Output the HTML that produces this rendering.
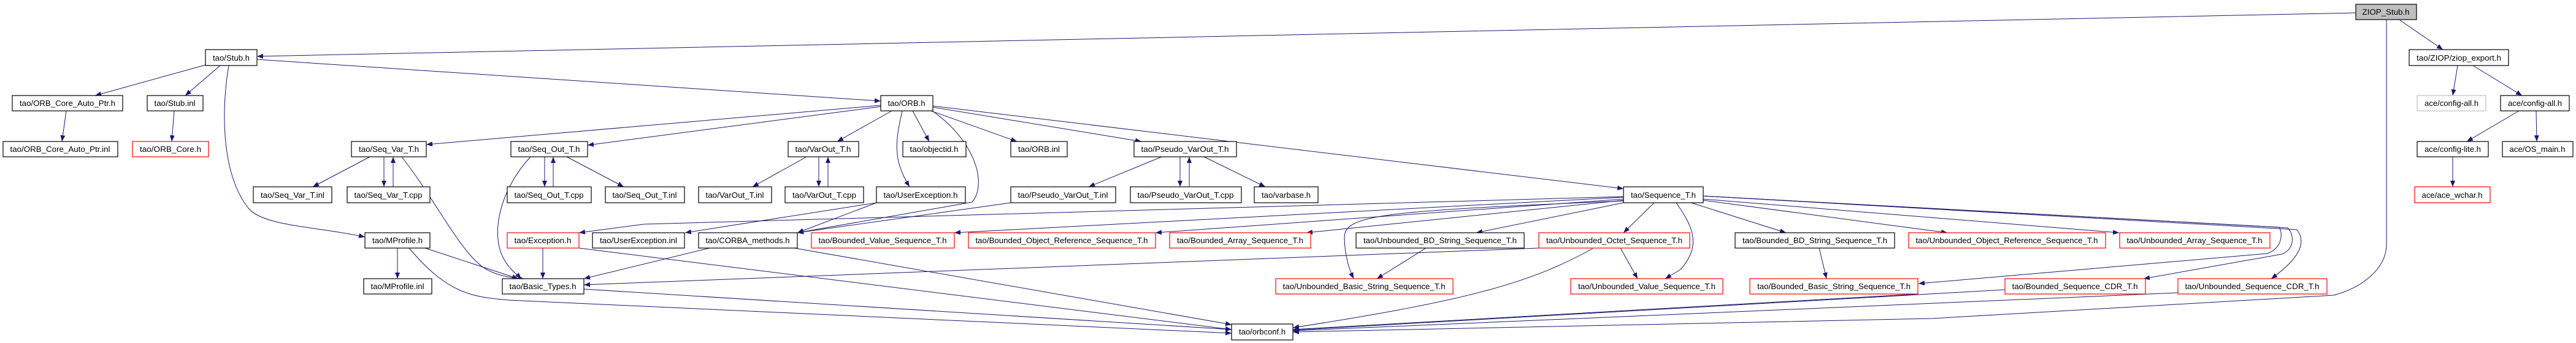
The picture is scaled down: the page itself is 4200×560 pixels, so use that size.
<!DOCTYPE html>
<html><head><meta charset="utf-8"><style>
html,body{margin:0;padding:0;background:#fff}
svg{display:block}
text{font-family:"Liberation Sans",sans-serif;font-size:13px;fill:#000;text-anchor:middle}
.e{fill:none;stroke:#191970;stroke-width:1}
</style></head><body>
<svg width="4200" height="560" viewBox="0 0 4200 560" xmlns="http://www.w3.org/2000/svg">
<defs><marker id="a" markerUnits="userSpaceOnUse" markerWidth="10" markerHeight="8" refX="10" refY="4" orient="auto"><path d="M0,0 L10,4 L0,8 z" fill="#191970"/></marker></defs>
<g class="e" marker-end="url(#a)">
<path d="M3841,21 L2100,57 L1050,79 L419,92"/>
<path d="M3913,33 L3983,81"/>
<path d="M3891,32 L3891,400 C3890,440 3850,470 3805,482 L3150,520 L2108,542"/>
<path d="M4007,107 L3999,156"/>
<path d="M4032,107 L4112,156"/>
<path d="M4107,181 L4022,231"/>
<path d="M4135,181 L4136,231"/>
<path d="M3999,256 L3999,305"/>
<path d="M335,106 L155,156"/>
<path d="M359,107 L302,156"/>
<path d="M373,107 C362,170 358,280 405,340 C430,370 520,370 595,387"/>
<path d="M419,97 L1436,165"/>
<path d="M108,181 L101,231"/>
<path d="M284,181 L280,231"/>
<path d="M1436,172 L695,236"/>
<path d="M1436,174 L958,237"/>
<path d="M1454,181 L1365,231"/>
<path d="M1488,181 L1515,231"/>
<path d="M1471,181 C1460,230 1455,260 1483,305"/>
<path d="M1520,181 C1590,230 1610,300 1585,330 L1300,380"/>
<path d="M1518,181 L1658,231"/>
<path d="M1521,175 L1861,231"/>
<path d="M1521,173 L2647,308"/>
<path d="M603,256 L510,305"/>
<path d="M626,256 L626,305"/>
<path d="M641,305 L641,256"/>
<path d="M655,256 C705,320 745,400 780,430 C800,450 840,455 855,455"/>
<path d="M888,256 L888,305"/>
<path d="M902,305 L902,256"/>
<path d="M924,256 L1017,305"/>
<path d="M865,256 C815,310 800,380 820,420 C830,440 845,450 850,455"/>
<path d="M1315,256 L1227,305"/>
<path d="M1335,256 L1335,305"/>
<path d="M1350,305 L1350,256"/>
<path d="M1894,256 L1775,305"/>
<path d="M1924,256 L1924,305"/>
<path d="M1939,305 L1939,256"/>
<path d="M1963,256 L2063,305"/>
<path d="M1429,331 L1117,380"/>
<path d="M1429,331 L1300,380"/>
<path d="M1648,331 L1300,380"/>
<path d="M2647,321 L1050,366 L944,380"/>
<path d="M885,405 L885,455"/>
<path d="M944,405 L2008,538"/>
<path d="M648,405 L648,455"/>
<path d="M693,405 L845,455"/>
<path d="M667,405 C730,480 770,485 830,490 L2008,544"/>
<path d="M1157,405 L952,455"/>
<path d="M1295,405 L2008,530"/>
<path d="M952,472 L2008,538"/>
<path d="M2509,405 L952,465"/>
<path d="M2647,322 L1556,380"/>
<path d="M2647,325 L1884,380"/>
<path d="M2647,327 L2130,380"/>
<path d="M2647,331 L2407,380"/>
<path d="M2697,331 L2647,380"/>
<path d="M2647,328 C2250,345 2190,350 2192,390 C2193,420 2200,440 2207,455"/>
<path d="M2733,331 C2760,370 2775,400 2740,440 L2715,455"/>
<path d="M2757,331 L2912,380"/>
<path d="M2777,327 L3175,380"/>
<path d="M2777,325 L3455,380"/>
<path d="M2777,320 L3716,371 C3722,380 3722,405 3696,414 L3128,463"/>
<path d="M2777,320 L3730,372 C3742,385 3740,408 3720,415 L3495,455"/>
<path d="M2777,320 L3745,375 C3760,395 3752,420 3703,455"/>
<path d="M2325,405 L2245,455"/>
<path d="M2642,405 L2670,455"/>
<path d="M2598,405 C2500,460 2400,490 2108,535"/>
<path d="M2966,405 L2978,455"/>
<path d="M3127,480 L2108,538"/>
<path d="M3269,473 L2108,539"/>
<path d="M3551,478 L2108,540"/>
</g>
<g stroke-width="1.2" fill="#fff">
<rect x="3841" y="7" width="99" height="25" fill="#bfbfbf" stroke="#000"/>
<rect x="335" y="81" width="84" height="26" stroke="#000"/>
<rect x="3928" y="81" width="162" height="26" stroke="#000"/>
<rect x="20" y="156" width="180" height="25" stroke="#000"/>
<rect x="240" y="156" width="91" height="25" stroke="#000"/>
<rect x="1436" y="156" width="85" height="25" stroke="#000"/>
<rect x="3941" y="156" width="112" height="25" stroke="#bfbfbf"/>
<rect x="4077" y="156" width="112" height="25" stroke="#000"/>
<rect x="5" y="231" width="187" height="25" stroke="#000"/>
<rect x="216" y="231" width="124" height="25" stroke="#f00"/>
<rect x="573" y="231" width="122" height="25" stroke="#000"/>
<rect x="833" y="231" width="125" height="25" stroke="#000"/>
<rect x="1285" y="231" width="115" height="25" stroke="#000"/>
<rect x="1472" y="231" width="103" height="25" stroke="#000"/>
<rect x="1648" y="231" width="92" height="25" stroke="#000"/>
<rect x="1849" y="231" width="167" height="25" stroke="#000"/>
<rect x="3941" y="231" width="116" height="25" stroke="#000"/>
<rect x="4080" y="231" width="115" height="25" stroke="#000"/>
<rect x="413" y="305" width="128" height="26" stroke="#000"/>
<rect x="566" y="305" width="135" height="26" stroke="#000"/>
<rect x="827" y="305" width="137" height="26" stroke="#000"/>
<rect x="987" y="305" width="129" height="26" stroke="#000"/>
<rect x="1139" y="305" width="119" height="26" stroke="#000"/>
<rect x="1280" y="305" width="128" height="26" stroke="#000"/>
<rect x="1429" y="305" width="145" height="26" stroke="#000"/>
<rect x="1648" y="305" width="171" height="26" stroke="#000"/>
<rect x="1843" y="305" width="181" height="26" stroke="#000"/>
<rect x="2045" y="305" width="104" height="26" stroke="#000"/>
<rect x="2647" y="305" width="130" height="26" stroke="#000"/>
<rect x="3937" y="305" width="123" height="26" stroke="#f00"/>
<rect x="595" y="380" width="106" height="25" stroke="#000"/>
<rect x="827" y="380" width="117" height="25" stroke="#f00"/>
<rect x="966" y="380" width="150" height="25" stroke="#000"/>
<rect x="1139" y="380" width="161" height="25" stroke="#000"/>
<rect x="1323" y="380" width="233" height="25" stroke="#f00"/>
<rect x="1579" y="380" width="305" height="25" stroke="#f00"/>
<rect x="1907" y="380" width="230" height="25" stroke="#f00"/>
<rect x="2211" y="380" width="274" height="25" stroke="#000"/>
<rect x="2509" y="380" width="246" height="25" stroke="#f00"/>
<rect x="2829" y="380" width="260" height="25" stroke="#000"/>
<rect x="3112" y="380" width="321" height="25" stroke="#f00"/>
<rect x="3456" y="380" width="245" height="25" stroke="#f00"/>
<rect x="593" y="455" width="111" height="25" stroke="#000"/>
<rect x="819" y="455" width="133" height="25" stroke="#000"/>
<rect x="2080" y="455" width="289" height="25" stroke="#f00"/>
<rect x="2561" y="455" width="248" height="25" stroke="#f00"/>
<rect x="2853" y="455" width="274" height="25" stroke="#f00"/>
<rect x="3269" y="455" width="229" height="25" stroke="#f00"/>
<rect x="3551" y="455" width="243" height="25" stroke="#f00"/>
<rect x="2008" y="529" width="100" height="26" stroke="#000"/>
</g>
<g lengthAdjust="spacingAndGlyphs">
<text x="3890" y="24" textLength="77" lengthAdjust="spacingAndGlyphs">ZIOP_Stub.h</text>
<text x="377" y="99" textLength="60" lengthAdjust="spacingAndGlyphs">tao/Stub.h</text>
<text x="4009" y="99" textLength="138" lengthAdjust="spacingAndGlyphs">tao/ZIOP/ziop_export.h</text>
<text x="110" y="173" textLength="156" lengthAdjust="spacingAndGlyphs">tao/ORB_Core_Auto_Ptr.h</text>
<text x="285" y="173" textLength="67" lengthAdjust="spacingAndGlyphs">tao/Stub.inl</text>
<text x="1478" y="173" textLength="61" lengthAdjust="spacingAndGlyphs">tao/ORB.h</text>
<text x="3997" y="173" textLength="88" lengthAdjust="spacingAndGlyphs">ace/config-all.h</text>
<text x="4133" y="173" textLength="88" lengthAdjust="spacingAndGlyphs">ace/config-all.h</text>
<text x="98" y="248" textLength="163" lengthAdjust="spacingAndGlyphs">tao/ORB_Core_Auto_Ptr.inl</text>
<text x="278" y="248" textLength="100" lengthAdjust="spacingAndGlyphs">tao/ORB_Core.h</text>
<text x="634" y="248" textLength="98" lengthAdjust="spacingAndGlyphs">tao/Seq_Var_T.h</text>
<text x="895" y="248" textLength="101" lengthAdjust="spacingAndGlyphs">tao/Seq_Out_T.h</text>
<text x="1342" y="248" textLength="91" lengthAdjust="spacingAndGlyphs">tao/VarOut_T.h</text>
<text x="1523" y="248" textLength="79" lengthAdjust="spacingAndGlyphs">tao/objectid.h</text>
<text x="1694" y="248" textLength="68" lengthAdjust="spacingAndGlyphs">tao/ORB.inl</text>
<text x="1932" y="248" textLength="143" lengthAdjust="spacingAndGlyphs">tao/Pseudo_VarOut_T.h</text>
<text x="3999" y="248" textLength="92" lengthAdjust="spacingAndGlyphs">ace/config-lite.h</text>
<text x="4137" y="248" textLength="91" lengthAdjust="spacingAndGlyphs">ace/OS_main.h</text>
<text x="477" y="323" textLength="104" lengthAdjust="spacingAndGlyphs">tao/Seq_Var_T.inl</text>
<text x="633" y="323" textLength="111" lengthAdjust="spacingAndGlyphs">tao/Seq_Var_T.cpp</text>
<text x="895" y="323" textLength="113" lengthAdjust="spacingAndGlyphs">tao/Seq_Out_T.cpp</text>
<text x="1051" y="323" textLength="105" lengthAdjust="spacingAndGlyphs">tao/Seq_Out_T.inl</text>
<text x="1198" y="323" textLength="95" lengthAdjust="spacingAndGlyphs">tao/VarOut_T.inl</text>
<text x="1344" y="323" textLength="104" lengthAdjust="spacingAndGlyphs">tao/VarOut_T.cpp</text>
<text x="1501" y="323" textLength="121" lengthAdjust="spacingAndGlyphs">tao/UserException.h</text>
<text x="1733" y="323" textLength="147" lengthAdjust="spacingAndGlyphs">tao/Pseudo_VarOut_T.inl</text>
<text x="1933" y="323" textLength="157" lengthAdjust="spacingAndGlyphs">tao/Pseudo_VarOut_T.cpp</text>
<text x="2097" y="323" textLength="80" lengthAdjust="spacingAndGlyphs">tao/varbase.h</text>
<text x="2712" y="323" textLength="106" lengthAdjust="spacingAndGlyphs">tao/Sequence_T.h</text>
<text x="3998" y="323" textLength="99" lengthAdjust="spacingAndGlyphs">ace/ace_wchar.h</text>
<text x="648" y="397" textLength="82" lengthAdjust="spacingAndGlyphs">tao/MProfile.h</text>
<text x="885" y="397" textLength="93" lengthAdjust="spacingAndGlyphs">tao/Exception.h</text>
<text x="1041" y="397" textLength="126" lengthAdjust="spacingAndGlyphs">tao/UserException.inl</text>
<text x="1219" y="397" textLength="137" lengthAdjust="spacingAndGlyphs">tao/CORBA_methods.h</text>
<text x="1439" y="397" textLength="209" lengthAdjust="spacingAndGlyphs">tao/Bounded_Value_Sequence_T.h</text>
<text x="1731" y="397" textLength="281" lengthAdjust="spacingAndGlyphs">tao/Bounded_Object_Reference_Sequence_T.h</text>
<text x="2022" y="397" textLength="206" lengthAdjust="spacingAndGlyphs">tao/Bounded_Array_Sequence_T.h</text>
<text x="2348" y="397" textLength="250" lengthAdjust="spacingAndGlyphs">tao/Unbounded_BD_String_Sequence_T.h</text>
<text x="2632" y="397" textLength="222" lengthAdjust="spacingAndGlyphs">tao/Unbounded_Octet_Sequence_T.h</text>
<text x="2959" y="397" textLength="236" lengthAdjust="spacingAndGlyphs">tao/Bounded_BD_String_Sequence_T.h</text>
<text x="3272" y="397" textLength="297" lengthAdjust="spacingAndGlyphs">tao/Unbounded_Object_Reference_Sequence_T.h</text>
<text x="3578" y="397" textLength="221" lengthAdjust="spacingAndGlyphs">tao/Unbounded_Array_Sequence_T.h</text>
<text x="648" y="472" textLength="87" lengthAdjust="spacingAndGlyphs">tao/MProfile.inl</text>
<text x="885" y="472" textLength="109" lengthAdjust="spacingAndGlyphs">tao/Basic_Types.h</text>
<text x="2224" y="472" textLength="265" lengthAdjust="spacingAndGlyphs">tao/Unbounded_Basic_String_Sequence_T.h</text>
<text x="2685" y="472" textLength="224" lengthAdjust="spacingAndGlyphs">tao/Unbounded_Value_Sequence_T.h</text>
<text x="2990" y="472" textLength="250" lengthAdjust="spacingAndGlyphs">tao/Bounded_Basic_String_Sequence_T.h</text>
<text x="3383" y="472" textLength="205" lengthAdjust="spacingAndGlyphs">tao/Bounded_Sequence_CDR_T.h</text>
<text x="3672" y="472" textLength="219" lengthAdjust="spacingAndGlyphs">tao/Unbounded_Sequence_CDR_T.h</text>
<text x="2058" y="546" textLength="76" lengthAdjust="spacingAndGlyphs">tao/orbconf.h</text>
</g>
</svg>
</body></html>
